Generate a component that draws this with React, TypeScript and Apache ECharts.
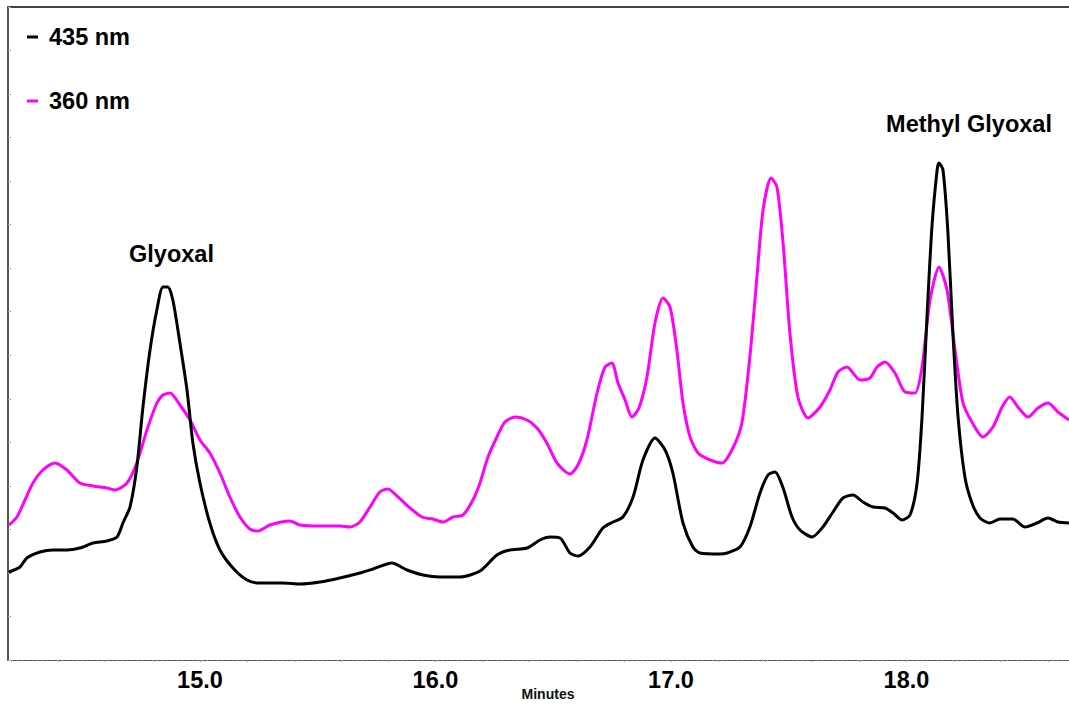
import React, { useEffect, useRef } from "react";
import * as echarts from "echarts";

// Time axis (minutes) and detector signal (arbitrary units, 0 = baseline of the frame)
const xMin = 14.185;
const xMax = 18.69;
const yMax = 653;
const xTickLabels = [15.0, 16.0, 17.0, 18.0];

const minutes435 = [
  14.189, 14.236, 14.265, 14.321, 14.376, 14.435, 14.49, 14.546, 14.605, 14.648, 14.673, 14.703,
  14.732, 14.758, 14.788, 14.817, 14.843, 14.864, 14.885, 14.915, 14.945, 14.97, 15.0, 15.042,
  15.085, 15.14, 15.2, 15.255, 15.352, 15.425, 15.51, 15.594, 15.679, 15.735, 15.815, 15.879,
  15.947, 16.019, 16.104, 16.189, 16.261, 16.316, 16.389, 16.444, 16.486, 16.529, 16.571, 16.605,
  16.656, 16.711, 16.754, 16.796, 16.839, 16.881, 16.932, 16.975, 17.008, 17.051, 17.093, 17.123,
  17.208, 17.238, 17.293, 17.335, 17.378, 17.412, 17.442, 17.476, 17.514, 17.548, 17.599, 17.645,
  17.688, 17.73, 17.773, 17.815, 17.858, 17.909, 17.943, 17.981, 18.015, 18.045, 18.066, 18.087,
  18.108, 18.13, 18.138, 18.155, 18.176, 18.197, 18.219, 18.248, 18.278, 18.312, 18.355, 18.397,
  18.452, 18.503, 18.554, 18.601, 18.643, 18.69,
];
const signal435 = [
  88, 93, 102, 108, 110, 110, 112, 117, 119, 123, 137, 153,
  193, 253, 310, 350, 373, 373, 360, 317, 270, 217, 177, 137,
  110, 92, 80, 77, 77, 76, 78, 82, 87, 91, 97, 90,
  85, 83, 83, 89, 105, 110, 112, 120, 123, 122, 107, 104,
  113, 132, 138, 143, 163, 200, 222, 210, 187, 137, 113, 107,
  106, 107, 113, 133, 167, 185, 188, 172, 143, 130, 123, 133,
  148, 162, 165, 158, 153, 152, 147, 140, 145, 177, 243, 343,
  433, 490, 497, 490, 427, 327, 243, 183, 157, 142, 137, 141,
  141, 133, 137, 142, 138, 137,
];

const minutes360 = [
  14.189, 14.223, 14.257, 14.291, 14.333, 14.384, 14.435, 14.49, 14.546, 14.605, 14.639, 14.69,
  14.732, 14.775, 14.817, 14.843, 14.873, 14.915, 14.958, 15.0, 15.042, 15.085, 15.127, 15.17,
  15.212, 15.246, 15.297, 15.382, 15.425, 15.51, 15.594, 15.637, 15.679, 15.722, 15.764, 15.798,
  15.841, 15.892, 15.943, 15.989, 16.032, 16.074, 16.117, 16.159, 16.189, 16.223, 16.261, 16.295,
  16.338, 16.389, 16.431, 16.473, 16.516, 16.571, 16.605, 16.643, 16.686, 16.72, 16.749, 16.775,
  16.805, 16.834, 16.864, 16.898, 16.932, 16.966, 16.996, 17.025, 17.051, 17.081, 17.115, 17.166,
  17.217, 17.263, 17.301, 17.335, 17.365, 17.391, 17.425, 17.45, 17.476, 17.505, 17.539, 17.582,
  17.633, 17.675, 17.709, 17.747, 17.803, 17.845, 17.875, 17.909, 17.951, 17.994, 18.036, 18.066,
  18.1, 18.138, 18.172, 18.206, 18.24, 18.278, 18.325, 18.367, 18.406, 18.439, 18.473, 18.516,
  18.558, 18.601, 18.643, 18.69,
];
const signal360 = [
  135, 143, 160, 177, 190, 197, 190, 177, 174, 172, 170, 177,
  197, 230, 257, 265, 267, 255, 240, 220, 207, 187, 163, 143,
  131, 129, 135, 139, 135, 134, 134, 133, 138, 153, 168, 171,
  163, 152, 143, 141, 138, 143, 145, 160, 177, 203, 223, 238,
  243, 240, 232, 217, 197, 186, 195, 220, 267, 293, 297, 277,
  260, 243, 252, 283, 337, 362, 353, 310, 257, 223, 207, 200,
  197, 212, 237, 303, 383, 450, 482, 473, 417, 327, 263, 242,
  253, 270, 288, 293, 280, 282, 293, 298, 287, 268, 267, 293,
  360, 393, 370, 310, 257, 238, 223, 233, 253, 263, 253, 243,
  252, 257, 248, 240,
];

const seriesNames = ["435 nm", "360 nm"];
const seriesColors = ["#000000", "#ff00ff"];
const peakLabels = [
  { text: "Glyoxal", x: 171.5, y: 254 },
  { text: "Methyl Glyoxal", x: 969, y: 124 },
];

const FONT = '"Liberation Sans", Arial, Helvetica, sans-serif';

function zip(xs: number[], ys: number[]) {
  return xs.map((x, i) => [x, ys[i]]);
}

export default function App() {
  const ref = useRef<HTMLDivElement>(null);

  useEffect(() => {
    if (!ref.current) return;
    const chart = echarts.init(ref.current, undefined, { renderer: "svg" });

    const minorTicks: number[] = [];
    for (let v = 14.2; v <= xMax + 1e-9; v += 0.2) minorTicks.push(Math.round(v * 100) / 100);

    chart.setOption({
      animation: false,
      backgroundColor: "#ffffff",
      grid: { left: 8, right: 0, top: 7, bottom: 44, containLabel: false, outerBoundsMode: "none" },
      legend: {
        orient: "vertical",
        left: 27,
        top: 25,
        itemWidth: 11,
        itemHeight: 3,
        itemGap: 40,
        icon: "rect",
        padding: 0,
        data: seriesNames,
        selectedMode: false,
        textStyle: {
          fontSize: 23.5,
          fontWeight: "bold",
          color: "#000",
          fontFamily: FONT,
          padding: [0, 0, 0, 6],
        },
      },
      xAxis: [
        {
          type: "value",
          position: "bottom",
          min: xMin,
          max: xMax,
          axisLine: { show: true, lineStyle: { color: "#555", width: 1, type: [4, 1] } },
          axisTick: {
            show: true,
            customValues: minorTicks,
            length: 2,
            lineStyle: { color: "#999", width: 1 },
          },
          axisLabel: {
            show: true,
            customValues: xTickLabels,
            formatter: (v: number) => v.toFixed(1),
            fontSize: 23.5,
            fontWeight: "bold",
            color: "#000",
            fontFamily: FONT,
            margin: 8,
          },
          splitLine: { show: false },
          name: "Minutes",
          nameLocation: "middle",
          nameGap: 27,
          nameMoveOverlap: false,
          nameTextStyle: {
            fontSize: 14,
            fontWeight: "bold",
            color: "#111",
            fontFamily: FONT,
            padding: [0, 0, 0, 19],
          },
        },
        {
          type: "value",
          position: "top",
          min: xMin,
          max: xMax,
          axisLine: { show: true, lineStyle: { color: "#444", width: 2 } },
          axisTick: { show: false },
          axisLabel: { show: false },
          splitLine: { show: false },
        },
      ],
      yAxis: {
        type: "value",
        min: 0,
        max: yMax,
        interval: yMax / 15,
        axisLine: { show: true, lineStyle: { color: "#555", width: 2 } },
        axisTick: { show: true, inside: true, length: 3, lineStyle: { color: "#aaa", width: 1 } },
        axisLabel: { show: false },
        splitLine: { show: false },
      },
      series: [
        {
          name: seriesNames[1],
          type: "line",
          data: zip(minutes360, signal360),
          showSymbol: false,
          smooth: 0.25,
          lineStyle: { color: seriesColors[1], width: 3 },
          itemStyle: { color: seriesColors[1] },
          z: 2,
        },
        {
          name: seriesNames[0],
          type: "line",
          data: zip(minutes435, signal435),
          showSymbol: false,
          smooth: 0.25,
          lineStyle: { color: seriesColors[0], width: 3 },
          itemStyle: { color: seriesColors[0] },
          z: 3,
        },
      ],
      graphic: peakLabels.map((p) => ({
        type: "text",
        x: p.x,
        y: p.y,
        style: {
          text: p.text,
          fill: "#000",
          fontSize: 23.5,
          fontWeight: "bold",
          fontFamily: FONT,
          align: "center",
          verticalAlign: "middle",
        },
      })),
    });

    return () => chart.dispose();
  }, []);

  return (
    <div
      ref={ref}
      style={{ position: "absolute", left: 0, top: 0, width: 1069, height: 704, background: "#fff" }}
    />
  );
}
